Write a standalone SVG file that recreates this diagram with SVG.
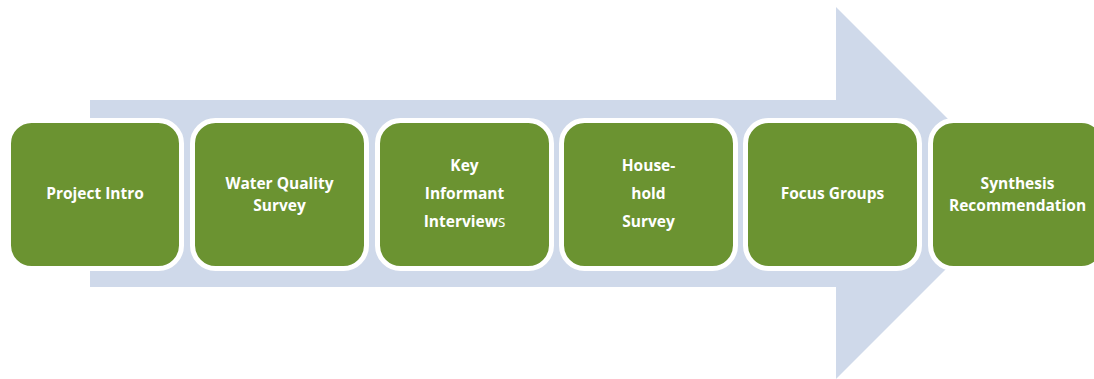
<svg xmlns="http://www.w3.org/2000/svg" width="1094" height="379" viewBox="0 0 1094 379">
<style>
.box{fill:#6b9331;stroke:#ffffff;stroke-width:5}
.t{font-family:"Open Sans","Liberation Sans",sans-serif;font-weight:bold;font-size:15.5px;fill:#ffffff;text-anchor:middle}
.n{font-weight:normal}
</style>
<rect width="1094" height="379" fill="#ffffff"/>
<g id="connectors">
<polygon points="90,100 836,100 836,7 1022,193 836,379 836,287 90,287" fill="#cfd9ea"/>
</g>
<g id="n1"><rect class="box" x="8.5" y="120.5" width="173" height="148" rx="23"/><text class="t" x="95" y="199">Project Intro</text></g>
<g id="n2"><rect class="box" x="192.5" y="120.5" width="174" height="148" rx="23"/><text class="t" x="279.5" y="189">Water Quality</text><text class="t" x="279.5" y="211">Survey</text></g>
<g id="n3"><rect class="box" x="377.5" y="120.5" width="174" height="148" rx="23"/><text class="t" x="464.5" y="171">Key</text><text class="t" x="464.5" y="199">Informant</text><text class="t" x="464.5" y="227">Interview<tspan class="n">s</tspan></text></g>
<g id="n4"><rect class="box" x="561.5" y="120.5" width="174" height="148" rx="23"/><text class="t" x="648.5" y="171">House-</text><text class="t" x="648.5" y="199">hold</text><text class="t" x="648.5" y="227">Survey</text></g>
<g id="n5"><rect class="box" x="745.5" y="120.5" width="174" height="148" rx="23"/><text class="t" x="832.5" y="199">Focus Groups</text></g>
<g id="n6"><rect class="box" x="930.5" y="120.5" width="174" height="148" rx="23"/><text class="t" x="1017.5" y="189">Synthesis</text><text class="t" x="1017.5" y="211">Recommendation</text></g>
</svg>
